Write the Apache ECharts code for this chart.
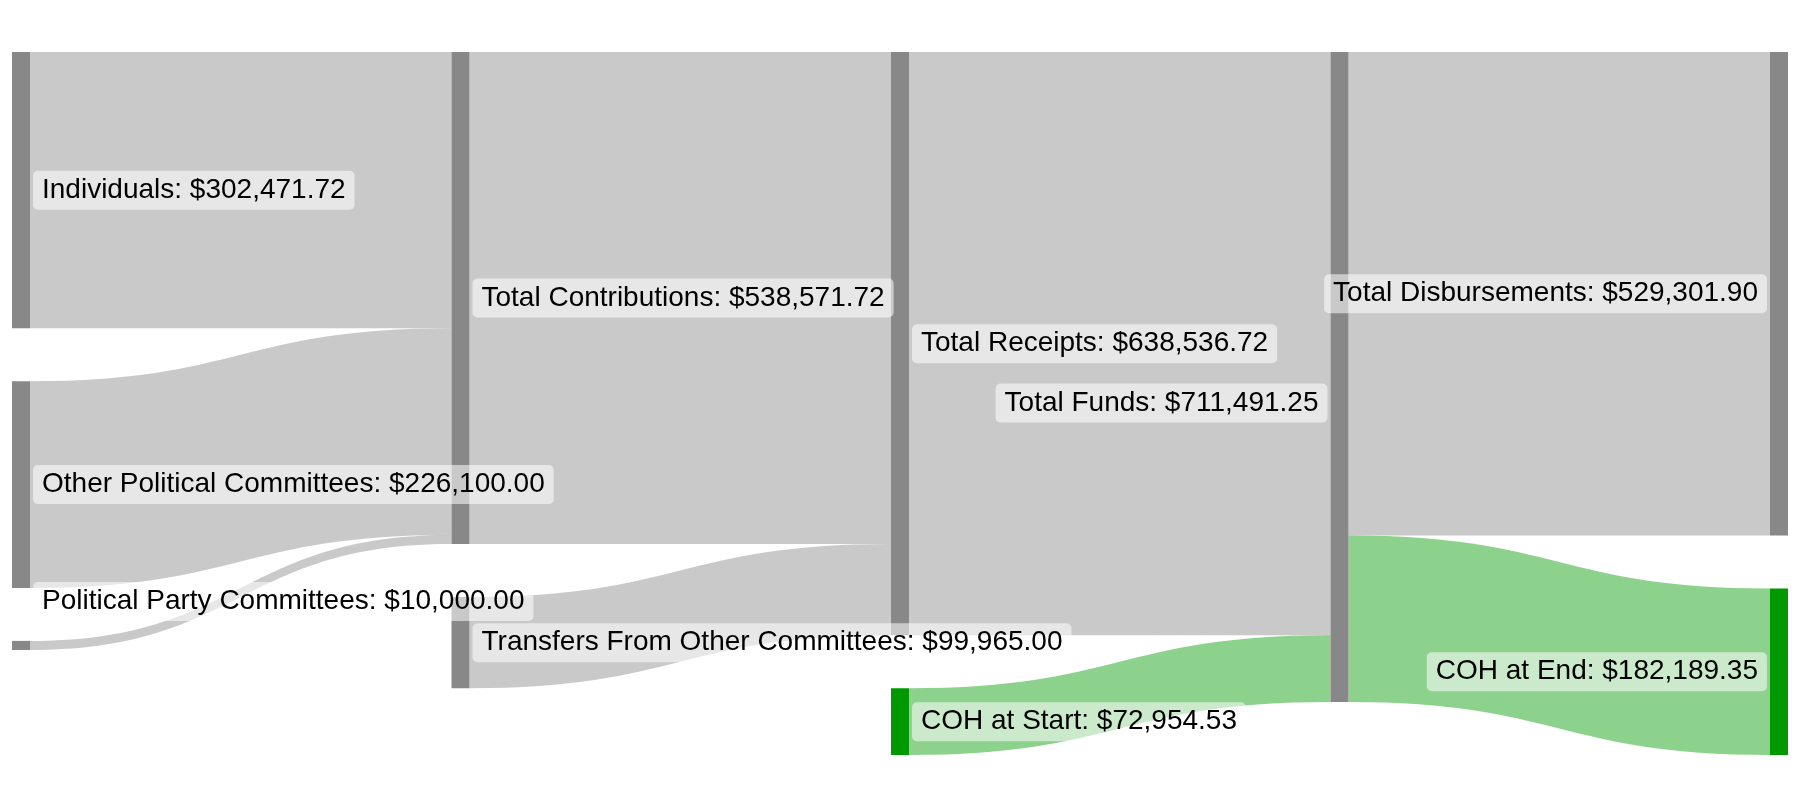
<!DOCTYPE html>
<html>
<head>
<meta charset="utf-8">
<script src="https://cdn.jsdelivr.net/npm/echarts@6/dist/echarts.min.js"></script>
<style>
html,body{margin:0;padding:0;background:#fff;}
#chart{width:1800px;height:800px;}
</style>
</head>
<body>
<div id="chart"></div>
<script>
// ---- data ----
const nodeNames = [
  'Individuals',
  'Other Political Committees',
  'Political Party Committees',
  'Total Contributions',
  'Transfers From Other Committees',
  'Total Receipts',
  'COH at Start',
  'Total Funds',
  'Total Disbursements',
  'COH at End'
];
const nodeDepths = [0, 0, 0, 1, 1, 2, 2, 3, 4, 4];
const linkSources = ['Individuals', 'Other Political Committees', 'Political Party Committees',
  'Total Contributions', 'Transfers From Other Committees',
  'Total Receipts', 'COH at Start',
  'Total Funds', 'Total Funds'];
const linkTargets = ['Total Contributions', 'Total Contributions', 'Total Contributions',
  'Total Receipts', 'Total Receipts',
  'Total Funds', 'Total Funds',
  'Total Disbursements', 'COH at End'];
const linkValues = [302471.72, 226100.00, 10000.00,
  538571.72, 99965.00,
  638536.72, 72954.53,
  529301.90, 182189.35];
const cashNodes = ['COH at Start', 'COH at End'];

// ---- styles ----
const GRAY_NODE = '#888888';
const GREEN_NODE = '#009900';
const GRAY_LINK = 'rgba(136,136,136,0.45)';
const GREEN_LINK = 'rgba(0,153,0,0.45)';
// label nudges (style only), keyed by node name
const labelOffsets = {
  'Political Party Committees': [0, -44],
  'Total Funds': [0, 26]
};

function fmt(v) {
  return '$' + Number(v).toLocaleString('en-US', {minimumFractionDigits: 2, maximumFractionDigits: 2});
}

const nodes = nodeNames.map((name, i) => {
  const isCash = cashNodes.indexOf(name) >= 0;
  const leftLabel = nodeDepths[i] >= 3;
  const label = {position: leftLabel ? 'left' : 'right'};
  if (labelOffsets[name]) label.offset = labelOffsets[name];
  return {
    name: name,
    depth: nodeDepths[i],
    itemStyle: {color: isCash ? GREEN_NODE : GRAY_NODE, borderWidth: 0},
    label: label
  };
});

const links = linkSources.map((s, i) => {
  const t = linkTargets[i];
  const isCash = cashNodes.indexOf(s) >= 0 || cashNodes.indexOf(t) >= 0;
  return {
    source: s,
    target: t,
    value: linkValues[i],
    lineStyle: {color: isCash ? GREEN_LINK : GRAY_LINK, opacity: 1}
  };
});

const chart = echarts.init(document.getElementById('chart'), null, {renderer: 'canvas'});
chart.setOption({
  animation: false,
  backgroundColor: '#ffffff',
  series: [{
    type: 'sankey',
    left: 12,
    right: 12,
    top: 52,
    bottom: 45,
    nodeWidth: 18,
    nodeGap: 53,
    nodeAlign: 'justify',
    layoutIterations: 0,
    draggable: false,
    emphasis: {disabled: true},
    data: nodes,
    links: links,
    lineStyle: {curveness: 0.5},
    label: {
      show: true,
      color: '#000',
      fontFamily: '"Liberation Sans", Arial, Helvetica, sans-serif',
      fontSize: 28,
      lineHeight: 33,
      distance: 3,
      padding: [4, 9, 2, 9],
      borderRadius: 5,
      backgroundColor: 'rgba(255,255,255,0.55)',
      formatter: function (p) { return p.name + ': ' + fmt(p.value); }
    }
  }]
});
</script>
</body>
</html>
